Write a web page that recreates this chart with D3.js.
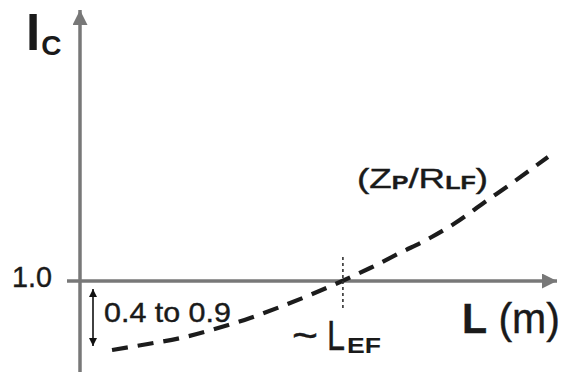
<!DOCTYPE html>
<html>
<head>
<meta charset="utf-8">
<script src="https://cdn.jsdelivr.net/npm/d3@7"></script>
<style>
  html, body { margin: 0; padding: 0; background: #fff; }
  svg { display: block; font-family: "Liberation Sans", Arial, sans-serif; }
</style>
</head>
<body>
<svg id="chart" width="561" height="372"></svg>
<script>
// Cable length L (m) and the ratio Ic along the dashed curve
const lengths = [0.67, 1.42, 2.20, 2.89, 3.56, 4.18, 4.81, 5.44, 6.07, 6.69, 7.32, 7.85, 8.47, 9.04, 9.79];
const icValues = [0.507, 0.55, 0.60, 0.664, 0.736, 0.814, 0.90, 0.993, 1.093, 1.20, 1.307, 1.414, 1.564, 1.70, 1.886];
const yTicks = [1.0];
const lEF = 5.5;

const svg = d3.select("#chart");
const x = d3.scaleLinear().domain([0, 10]).range([80, 558]);
const y = d3.scaleLinear().domain([0.5, 2]).range([351, 141]);

const axisColor = "#787878";
const textColor = "#1a1a1a";
const defs = svg.append("defs");
function arrowMarker(id, color, w, h) {
  defs.append("marker")
    .attr("id", id)
    .attr("viewBox", "0 0 10 10")
    .attr("refX", 10).attr("refY", 5)
    .attr("markerUnits", "userSpaceOnUse")
    .attr("markerWidth", w).attr("markerHeight", h)
    .attr("orient", "auto-start-reverse")
    .append("path")
    .attr("d", "M0,0 L10,5 L0,10 Z")
    .attr("fill", color);
}
arrowMarker("axisArrow", axisColor, 18, 15);
arrowMarker("smallArrow", "#111", 9, 8);

// stretch a text horizontally so it spans [x0, x1]
function fitWidth(sel, x0, x1) {
  const bb = sel.node().getBBox();
  const s = (x1 - x0) / bb.width;
  const base = sel.attr("transform") || "";
  sel.attr("transform", `${base} translate(${x0},0) scale(${s},1) translate(${-bb.x},0)`);
}

// y axis with arrow
svg.append("line")
  .attr("x1", x(0)).attr("x2", x(0))
  .attr("y1", 372).attr("y2", 10)
  .attr("stroke", axisColor).attr("stroke-width", 3.5)
  .attr("marker-end", "url(#axisArrow)");

// x axis at Ic = 1.0 with arrow
svg.append("line")
  .attr("x1", 67).attr("x2", 557)
  .attr("y1", y(1)).attr("y2", y(1))
  .attr("stroke", axisColor).attr("stroke-width", 3.5)
  .attr("marker-end", "url(#axisArrow)");

// tick label 1.0
const yAxis = d3.axisLeft(y).tickValues(yTicks).tickFormat(d3.format(".1f"))
  .tickSize(13).tickPadding(15);
const gy = svg.append("g").attr("transform", `translate(${x(0)},0)`).call(yAxis);
gy.attr("font-size", null).attr("font-family", null);
gy.select(".domain").remove();
gy.selectAll(".tick line").remove();
gy.selectAll(".tick text")
  .style("font-family", "'Liberation Sans', Arial, sans-serif")
  .style("font-size", "29px")
  .attr("fill", textColor)
  .attr("stroke", textColor).attr("stroke-width", 0.4)
  .attr("dy", "0.2em")
  .each(function () { fitWidth(d3.select(this), 12 - x(0), 52 - x(0)); });

// dashed curve
const line = d3.line()
  .x((d, i) => x(lengths[i]))
  .y(d => y(d))
  .curve(d3.curveMonotoneX);
svg.append("path")
  .datum(icValues)
  .attr("d", line)
  .attr("fill", "none")
  .attr("stroke", "#1c1c1c")
  .attr("stroke-width", 4.2)
  .attr("stroke-dasharray", "16 10");

// dotted marker at L_EF
svg.append("line")
  .attr("x1", x(lEF)).attr("x2", x(lEF))
  .attr("y1", 257).attr("y2", 311)
  .attr("stroke", "#333").attr("stroke-width", 1.6)
  .attr("stroke-dasharray", "3 3");

// double-headed range arrow
svg.append("line")
  .attr("x1", 93).attr("x2", 93)
  .attr("y1", 289).attr("y2", 346)
  .attr("stroke", "#111").attr("stroke-width", 1.6)
  .attr("marker-start", "url(#smallArrow)")
  .attr("marker-end", "url(#smallArrow)");

// labels
const txt = (xp, yp, size, weight) => svg.append("text")
  .attr("x", xp).attr("y", yp)
  .attr("font-size", size).attr("font-weight", weight || "normal")
  .attr("fill", textColor)
  .attr("stroke", textColor).attr("stroke-width", weight === "bold" ? 0 : 0.4);

const ic = txt(26, 50, 51, "bold");
ic.append("tspan").text("I");
ic.append("tspan").attr("font-size", 28).attr("dx", 1).attr("dy", 5).text("C");

const range = txt(0, 322, 27).text("0.4 to 0.9");
fitWidth(range, 104, 231);

const zp = txt(0, 188, 28);
zp.append("tspan").text("(Z");
zp.append("tspan").attr("font-size", 19).attr("font-weight", "bold").attr("dy", 1).text("P");
zp.append("tspan").attr("dy", -1).text("/R");
zp.append("tspan").attr("font-size", 19).attr("font-weight", "bold").attr("dy", 1).text("LF");
zp.append("tspan").attr("dy", -1).text(")");
fitWidth(zp, 357, 488);

const lm = txt(0, 333, 43);
lm.append("tspan").attr("font-weight", "bold").text("L");
lm.append("tspan").text(" (m)");
fitWidth(lm, 462, 560);

const tilde = txt(0, 349, 40).text("~");
fitWidth(tilde, 292, 318);
const lBig = txt(0, 350, 42).text("L");
fitWidth(lBig, 327, 345);
const ef = txt(0, 353, 22, "bold").text("EF");
fitWidth(ef, 347, 381);
</script>
</body>
</html>
